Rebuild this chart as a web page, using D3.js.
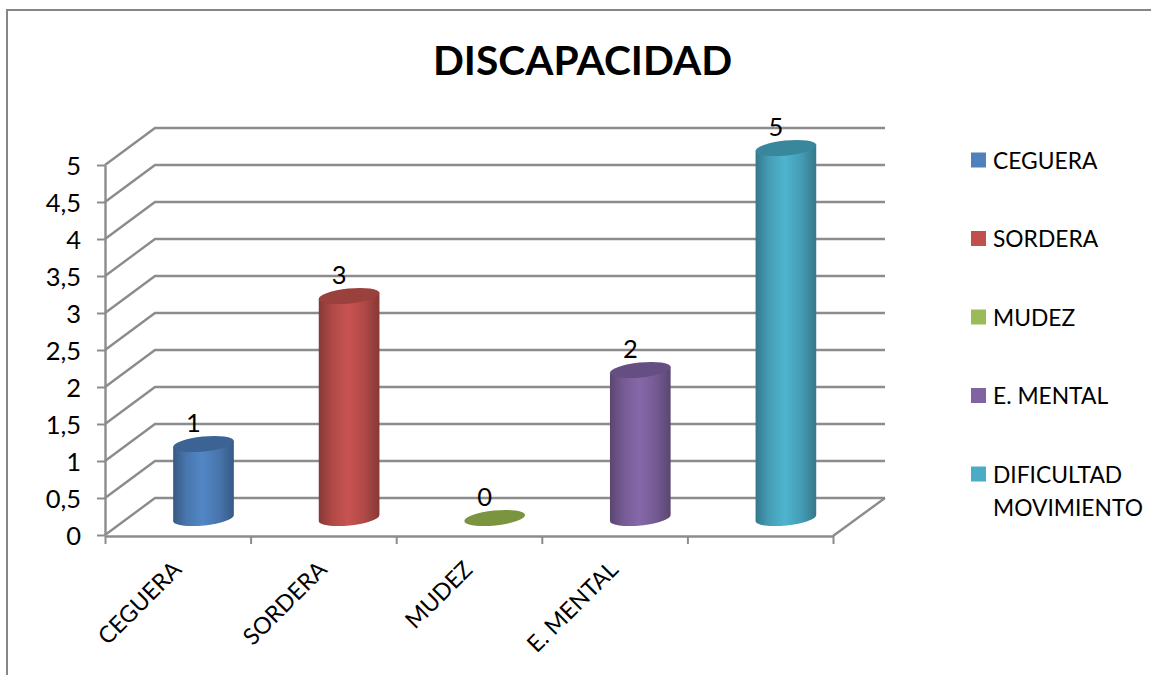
<!DOCTYPE html>
<html>
<head>
<meta charset="utf-8">
<script src="https://cdn.jsdelivr.net/npm/d3@7"></script>
<style>
body { margin: 0; background: #fff; }
svg { display: block; }
text { font-family: Lato, "Open Sans", sans-serif; fill: #000; }
.axis .domain { stroke: #8c8c8c; stroke-width: 2.4px; }
.axis line { stroke: #8c8c8c; stroke-width: 2px; }
</style>
</head>
<body>
<script>
var categories = ['CEGUERA', 'SORDERA', 'MUDEZ', 'E. MENTAL', 'DIFICULTAD MOVIMIENTO']
var values = [1, 3, 0, 2, 5]
var yTicks = [0, 0.5, 1, 1.5, 2, 2.5, 3, 3.5, 4, 4.5, 5]
var axisLabels = ['CEGUERA', 'SORDERA', 'MUDEZ', 'E. MENTAL', '']
var legendLines = [['CEGUERA'], ['SORDERA'], ['MUDEZ'], ['E. MENTAL'], ['DIFICULTAD', 'MOVIMIENTO']]
var colors = ['#4f81bd', '#c0504d', '#9bbb59', '#8064a2', '#4bacc6']
var topColors = ['#3b6494', '#9a403d', '#7a9440', '#654f82', '#38879c']

var width = 1151
var height = 675
var margin = { left: 105, right: 318, top: 165, bottom: 140 }
var depthX = 50
var depthY = 37
var rx = 30.5
var ry = 7.5
var tilt = -6 * Math.PI / 180

var svg = d3.select('body').append('svg').attr('width', width).attr('height', height)

// frame, only top and left are visible in the picture
svg.append('path').attr('d', `M7,${height} V10 H${width}`)
    .attr('fill', 'none').attr('stroke', '#868686').attr('stroke-width', 2)

svg.append('text').text('DISCAPACIDAD')
    .attr('x', 582.5).attr('y', 75).attr('text-anchor', 'middle')
    .style('font-size', '40.7px').style('font-weight', 'bold')

var xScale = d3.scaleBand().domain(categories).range([margin.left, width - margin.right])
var yScale = d3.scaleLinear().domain([0, 5]).range([height - margin.bottom, margin.top])
var edgeScale = d3.scaleLinear().domain([0, categories.length]).range(xScale.range())

// walls and gridlines
var wall = svg.append('g')
wall.selectAll('path').data(yTicks).enter().append('path')
    .attr('d', d => `M${margin.left},${yScale(d)} l${depthX},${-depthY} H${width - margin.right + depthX + 2}`)
    .attr('fill', 'none').attr('stroke', '#8c8c8c').attr('stroke-width', 2.4)
wall.append('path')
    .attr('d', `M${width - margin.right},${yScale(0) + 1} L${width - margin.right + depthX + 2},${yScale(0) - depthY}`)
    .attr('fill', 'none').attr('stroke', '#8c8c8c').attr('stroke-width', 2.4)

// axes
var yAxis = d3.axisLeft(yScale).tickValues(yTicks).tickSize(8).tickSizeOuter(0).tickPadding(16)
    .tickFormat(d => String(d).replace('.', ','))
var gY = svg.append('g').attr('class', 'axis').attr('transform', `translate(${margin.left},0)`).call(yAxis)
gY.selectAll('text').style('font-size', '25.5px').attr('dy', '0.36em')

var xAxis = d3.axisBottom(edgeScale).tickValues(d3.range(categories.length + 1)).tickSize(8).tickSizeOuter(0).tickFormat('')
svg.append('g').attr('class', 'axis').attr('transform', `translate(0,${yScale(0) + 1})`).call(xAxis)

svg.append('g').selectAll('text').data(categories).enter().append('text')
    .text((d, i) => axisLabels[i])
    .attr('text-anchor', 'end')
    .attr('transform', d => `translate(${xScale(d) + xScale.bandwidth() / 2 + 5},${yScale(0) + 36}) rotate(-45)`)
    .style('font-size', '23.2px')

// gradients for the cylinders
var defs = svg.append('defs')
colors.forEach((c, i) => {
    var grad = defs.append('linearGradient').attr('id', 'cyl' + i)
    var dark = d3.color(c).darker(1)
    var mid = d3.color(c).darker(0.25)
    var light = d3.color(c).brighter(0.12)
    grad.append('stop').attr('offset', '0%').attr('stop-color', dark)
    grad.append('stop').attr('offset', '22%').attr('stop-color', mid)
    grad.append('stop').attr('offset', '48%').attr('stop-color', light)
    grad.append('stop').attr('offset', '75%').attr('stop-color', mid)
    grad.append('stop').attr('offset', '100%').attr('stop-color', dark)
})

var tiltDeg = tilt * 180 / Math.PI
var dx = rx * Math.cos(tilt)
var dy = rx * Math.sin(tilt)
var cx = d => xScale(d) + xScale.bandwidth() / 2 + depthX / 2 + 0.7
var cyOffset = 17

// cylinder bodies
var bars = svg.append('g').selectAll('g').data(categories).enter().append('g')
bars.append('path')
    .attr('d', (d, i) => {
        var x = cx(d)
        var top = yScale(values[i]) - cyOffset
        var bot = yScale(0) - cyOffset
        return `M${x - dx},${top - dy} L${x + dx},${top + dy} L${x + dx},${bot + dy} A${rx},${ry} ${tiltDeg} 0 1 ${x - dx},${bot - dy} Z`
    })
    .attr('fill', (d, i) => values[i] > 0 ? `url(#cyl${i})` : 'none')
bars.append('ellipse')
    .attr('rx', rx).attr('ry', ry)
    .attr('transform', (d, i) => `translate(${cx(d)},${yScale(values[i]) - cyOffset}) rotate(${tiltDeg})`)
    .attr('fill', (d, i) => topColors[i])

svg.append('g').selectAll('text').data(categories).enter().append('text')
    .text((d, i) => values[i])
    .attr('x', d => cx(d) - 10)
    .attr('y', (d, i) => yScale(values[i]) - cyOffset - 12)
    .attr('text-anchor', 'middle')
    .style('font-size', '25.5px')

// legend
var legendY = d3.scalePoint().domain(categories).range([160, 474])
var legend = svg.append('g').selectAll('g').data(categories).enter().append('g')
    .attr('transform', d => `translate(971,${legendY(d)})`)
legend.append('rect').attr('x', 0).attr('y', -7.5).attr('width', 15).attr('height', 15)
    .attr('fill', (d, i) => colors[i])
legend.append('text').attr('y', 8.5).style('font-size', '22.8px')
    .selectAll('tspan').data((d, i) => legendLines[i]).enter().append('tspan')
    .attr('x', 22).attr('dy', (d, i) => i ? 33 : 0).text(d => d)
</script>
</body>
</html>
